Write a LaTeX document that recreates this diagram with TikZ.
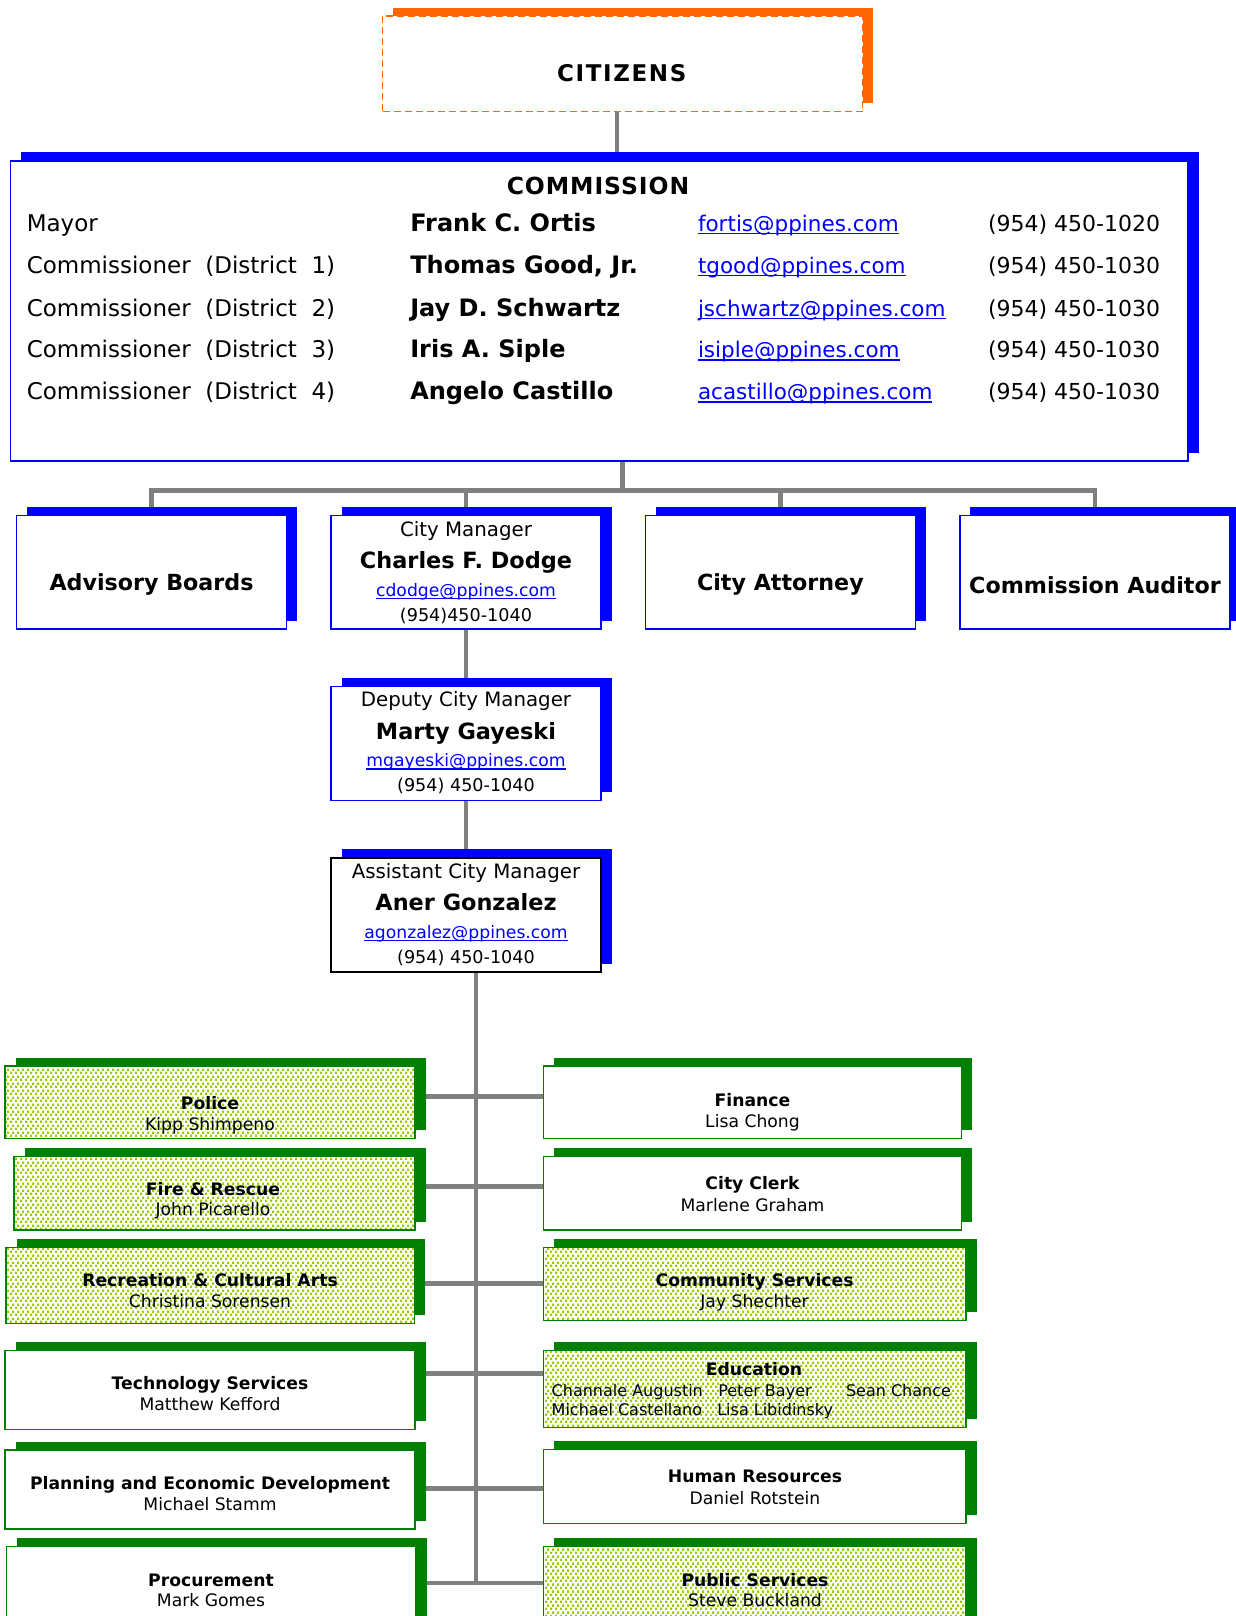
\documentclass[tikz,border=0pt]{standalone}
\usepackage{fontspec}
\setmainfont{DejaVu Sans}
\usetikzlibrary{calc,patterns}
\pgfdeclarelayer{bg}
\pgfsetlayers{bg,main}
\definecolor{org}{HTML}{FF6600}
\definecolor{bl}{HTML}{0000FF}
\definecolor{gr}{HTML}{008000}
\definecolor{dotc}{HTML}{99CC00}
\definecolor{lnk}{HTML}{0000FF}
\definecolor{connc}{HTML}{808080}
\pgfdeclarepatternformonly{gdots}{\pgfpointorigin}{\pgfpoint{5pt}{6.66pt}}{\pgfpoint{5pt}{6.66pt}}{%
  \pgfpathrectangle{\pgfpoint{0pt}{0pt}}{\pgfpoint{2.4pt}{2.4pt}}%
  \pgfpathrectangle{\pgfpoint{2.5pt}{3.33pt}}{\pgfpoint{2.4pt}{2.4pt}}%
  \pgfusepath{fill}%
}
\newcommand\fs[1]{\fontsize{#1}{#1}\selectfont}
\newcommand\eml[1]{{\color{lnk}\setbox0=\hbox{#1}\rlap{\rule[-0.16em]{\wd0}{0.07em}}\box0}}
\newcommand\mkbox[7]{%
  \fill[#3] (#4+10.5,#5-8.3) rectangle (#6+10.5,#7-8.3);
  \node[#2, anchor=north west, minimum width={#6-#4}, minimum height={#7-#5}] (#1) at (#4,#5) {};
}
\tikzset{
  every node/.style={inner sep=0pt, outer sep=0pt},
  box/.style={rectangle, fill=white, line width=1.5pt},
  bbox/.style={box, draw=bl},
  kbox/.style={box, draw=black, line width=2pt},
  gbox/.style={box, draw=gr, line width=1.3pt},
  dbox/.style={rectangle, draw=gr, line width=1.3pt, preaction={fill=white}, pattern=gdots, pattern color=dotc},
  obox/.style={box, draw=org, line width=1.5pt, dash pattern=on 7pt off 4pt},
  conn/.style={draw=connc, line width=4.5pt},
  tc/.style={anchor=base},
  tw/.style={anchor=base west},
  row/.style={tw, font=\fs{23}},
  nm/.style={tw, font=\fs{24}\bfseries},
  em/.style={tw, font=\fs{21.5}},
  ph/.style={tw, font=\fs{22}},
  ttl/.style={tc, font=\fs{19.8}},
  big/.style={tc, font=\fs{22.4}\bfseries},
  sem/.style={tc, font=\fs{17.2}},
  dh/.style={tc, font=\fs{17.2}\bfseries},
  dn/.style={tc, font=\fs{17.2}},
  en/.style={tw, font=\fs{16}}
}
\begin{document}
\begin{tikzpicture}[x=1pt,y=-1pt]
\useasboundingbox (0,0) rectangle (1235,1616);

% ---------- CITIZENS
\mkbox{cit}{obox}{org}{382.7}{16}{862.7}{111.7}
\node[tc, font=\fs{23}\bfseries\addfontfeature{LetterSpace=7}] (tcit) at (621.8,81.7) {CITIZENS};

% ---------- COMMISSION
\mkbox{com}{bbox}{bl}{10.3}{160.8}{1188}{460.8}
\node[tc, font=\fs{23.5}\bfseries\addfontfeature{LetterSpace=4}] (tcom) at (598,195) {COMMISSION};
\node[row] (l1) at (26.8,231) {Mayor};
\node[row] (l2) at (26.8,273) {Commissioner\ \ (District\ \ 1)};
\node[row] (l3) at (26.8,316) {Commissioner\ \ (District\ \ 2)};
\node[row] (l4) at (26.8,357.5) {Commissioner\ \ (District\ \ 3)};
\node[row] (l5) at (26.8,399.5) {Commissioner\ \ (District\ \ 4)};
\node[nm] (n1) at (410.3,231) {Frank C. Ortis};
\node[nm] (n2) at (410.3,273) {Thomas Good, Jr.};
\node[nm] (n3) at (410.3,316) {Jay D. Schwartz};
\node[nm] (n4) at (410.3,357.5) {Iris A. Siple};
\node[nm] (n5) at (410.3,399.5) {Angelo Castillo};
\node[em] (e1) at (698,231) {\eml{fortis@ppines.com}};
\node[em] (e2) at (698,273) {\eml{tgood@ppines.com}};
\node[em] (e3) at (698,316) {\eml{jschwartz@ppines.com}};
\node[em] (e4) at (698,357.5) {\eml{isiple@ppines.com}};
\node[em] (e5) at (698,399.5) {\eml{acastillo@ppines.com}};
\node[ph] (p1) at (988,231) {(954) 450-1020};
\node[ph] (p2) at (988,273) {(954) 450-1030};
\node[ph] (p3) at (988,316) {(954) 450-1030};
\node[ph] (p4) at (988,357.5) {(954) 450-1030};
\node[ph] (p5) at (988,399.5) {(954) 450-1030};

% ---------- second row
\mkbox{adv}{bbox}{bl}{16.5}{515.5}{286.5}{628.8}
\mkbox{cm}{bbox}{bl}{331}{515.5}{601}{628.8}
\mkbox{att}{bbox}{bl}{645.3}{515.5}{915.3}{628.8}
\mkbox{aud}{bbox}{bl}{959.8}{515.5}{1229.8}{628.8}
\node[big, font=\fs{22.2}\bfseries] (tadv) at (151.5,590.7) {Advisory Boards};
\node[big, font=\fs{22.2}\bfseries] (tatt) at (780.4,590) {City Attorney};
\node[big, font=\fs{22.2}\bfseries] (taud) at (1095,593.3) {Commission Auditor};
\node[ttl] (cm1) at (466,536.1) {City Manager};
\node[big] (cm2) at (466,568.5) {Charles F. Dodge};
\node[sem] (cm3) at (466,596) {\eml{cdodge@ppines.com}};
\node[sem, font=\fs{17.6}] (cm4) at (466,621) {(954)450-1040};

\mkbox{dep}{bbox}{bl}{331}{686.3}{601}{800.5}
\node[ttl] (dp1) at (466,706.9) {Deputy City Manager};
\node[big] (dp2) at (466,739.3) {Marty Gayeski};
\node[sem] (dp3) at (466,766.8) {\eml{mgayeski@ppines.com}};
\node[sem, font=\fs{17.6}] (dp4) at (466,791.8) {(954) 450-1040};

\mkbox{asst}{kbox}{bl}{331}{857.7}{601}{972}
\node[ttl] (as1) at (466,878.3) {Assistant City Manager};
\node[big] (as2) at (466,910.7) {Aner Gonzalez};
\node[sem] (as3) at (466,938.2) {\eml{agonzalez@ppines.com}};
\node[sem, font=\fs{17.6}] (as4) at (466,963.2) {(954) 450-1040};

% ---------- departments, left
\mkbox{pol}{dbox}{gr}{5}{1066}{415}{1138.3}
\node[dh] (pol1) at (210,1109.3) {Police};
\node[dn] (pol2) at (210,1130) {Kipp Shimpeno};
\mkbox{fire}{dbox}{gr}{14}{1156.7}{415}{1230}
\node[dh] (fire1) at (213,1195) {Fire \& Rescue};
\node[dn] (fire2) at (213,1215.7) {John Picarello};
\mkbox{rec}{dbox}{gr}{6}{1247.4}{414.5}{1323.7}
\node[dh] (rec1) at (210,1286) {Recreation \& Cultural Arts};
\node[dn] (rec2) at (210,1307) {Christina Sorensen};
\mkbox{tech}{gbox}{gr}{5}{1350.7}{415}{1429.3}
\node[dh] (tech1) at (210,1389.3) {Technology Services};
\node[dn] (tech2) at (210,1410) {Matthew Kefford};
\mkbox{plan}{gbox}{gr}{5}{1450}{415}{1529}
\node[dh] (plan1) at (210,1489.3) {Planning and Economic Development};
\node[dn] (plan2) at (210,1510) {Michael Stamm};
\mkbox{proc}{gbox}{gr}{6.7}{1546.7}{416}{1640}
\node[dh] (proc1) at (211,1586) {Procurement};
\node[dn] (proc2) at (211,1606.7) {Mark Gomes};

% ---------- departments, right
\mkbox{fin}{gbox}{gr}{543.3}{1066}{961.7}{1138.3}
\node[dh] (fin1) at (752.5,1106) {Finance};
\node[dn] (fin2) at (752.5,1127.3) {Lisa Chong};
\mkbox{clk}{gbox}{gr}{543.3}{1156.7}{961.7}{1230}
\node[dh] (clk1) at (752.5,1189.3) {City Clerk};
\node[dn] (clk2) at (752.5,1211) {Marlene Graham};
\mkbox{cs}{dbox}{gr}{543.3}{1247.4}{966}{1320.6}
\node[dh] (cs1) at (754.6,1286) {Community Services};
\node[dn] (cs2) at (754.6,1307) {Jay Shechter};
\mkbox{edu}{dbox}{gr}{543.3}{1350.7}{966}{1427.3}
\node[dh] (edu1) at (754,1375.7) {Education};
\node[en] (edu2) at (551.7,1396) {Channale Augustin};
\node[en] (edu3) at (718.3,1396) {Peter Bayer};
\node[en] (edu4) at (846,1396) {Sean Chance};
\node[en] (edu5) at (551.7,1415) {Michael Castellano};
\node[en] (edu6) at (717.3,1415) {Lisa Libidinsky};
\mkbox{hr}{gbox}{gr}{543.3}{1449.3}{966}{1523.3}
\node[dh] (hr1) at (755,1482.7) {Human Resources};
\node[dn] (hr2) at (755,1504) {Daniel Rotstein};
\mkbox{pub}{dbox}{gr}{543.3}{1546.7}{966}{1640}
\node[dh] (pub1) at (755,1586) {Public Services};
\node[dn] (pub2) at (755,1606.7) {Steve Buckland};

% ---------- connectors
\begin{pgfonlayer}{bg}
\coordinate (citx) at (617,0);
\coordinate (bus) at (622.7,490.7);
\coordinate (tr) at (476,1585);
\coordinate (r1) at (476,1096.5);
\coordinate (r2) at (476,1186.5);
\coordinate (r3) at (476,1283.5);
\coordinate (r4) at (476,1373.7);
\coordinate (r5) at (476,1488.7);
\coordinate (r6) at (476,1582.8);
\draw[conn] (cit.south -| citx) -- (com.north -| citx);
\draw[conn] (com.south -| bus) -- (bus);
\draw[conn] (bus) -| (adv.north);
\draw[conn] (bus) -| (cm.north);
\draw[conn] (bus) -| (att.north);
\draw[conn] (bus) -| (aud.north);
\draw[conn] (cm.south) -- (dep.north);
\draw[conn] (dep.south) -- (asst.north);
\draw[conn] (asst.south -| tr) -- (tr);
\draw[conn] (pol.east |- r1) -- (fin.west |- r1);
\draw[conn] (fire.east |- r2) -- (clk.west |- r2);
\draw[conn] (rec.east |- r3) -- (cs.west |- r3);
\draw[conn] (tech.east |- r4) -- (edu.west |- r4);
\draw[conn] (plan.east |- r5) -- (hr.west |- r5);
\draw[conn] (proc.east |- r6) -- (pub.west |- r6);
\end{pgfonlayer}
\end{tikzpicture}
\end{document}
